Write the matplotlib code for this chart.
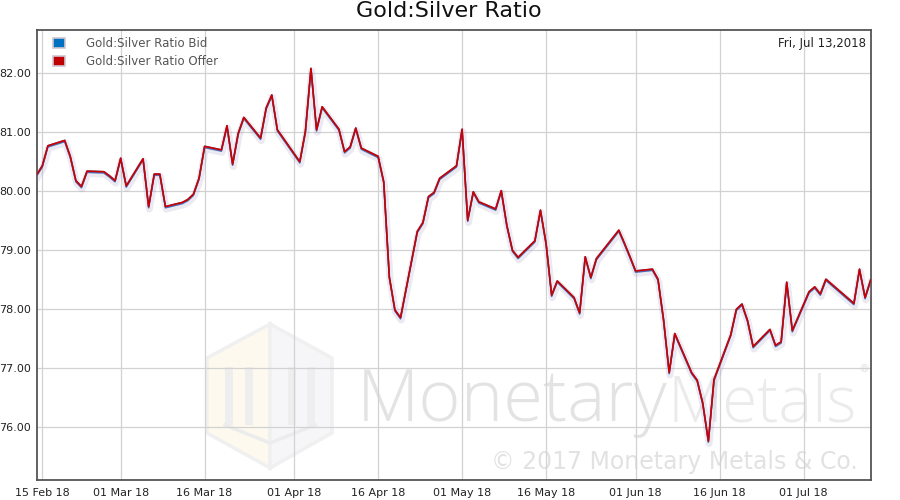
import numpy as np
import pandas as pd
import matplotlib
matplotlib.use("Agg")
import matplotlib.pyplot as plt
import matplotlib.dates as mdates
import matplotlib.patheffects as pe
from matplotlib.patches import Patch, Polygon, Rectangle
from matplotlib.transforms import Affine2D

# trading days and ratio values
dates = [
    "2018-02-14", "2018-02-15", "2018-02-16", "2018-02-19", "2018-02-20",
    "2018-02-21", "2018-02-22", "2018-02-23", "2018-02-26", "2018-02-27",
    "2018-02-28", "2018-03-01", "2018-03-02", "2018-03-05", "2018-03-06",
    "2018-03-07", "2018-03-08", "2018-03-09", "2018-03-12", "2018-03-13",
    "2018-03-14", "2018-03-15", "2018-03-16", "2018-03-19", "2018-03-20",
    "2018-03-21", "2018-03-22", "2018-03-23", "2018-03-26", "2018-03-27",
    "2018-03-28", "2018-03-29", "2018-04-02", "2018-04-03", "2018-04-04",
    "2018-04-05", "2018-04-06", "2018-04-09", "2018-04-10", "2018-04-11",
    "2018-04-12", "2018-04-13", "2018-04-16", "2018-04-17", "2018-04-18",
    "2018-04-19", "2018-04-20", "2018-04-23", "2018-04-24", "2018-04-25",
    "2018-04-26", "2018-04-27", "2018-04-30", "2018-05-01", "2018-05-02",
    "2018-05-03", "2018-05-04", "2018-05-07", "2018-05-08", "2018-05-09",
    "2018-05-10", "2018-05-11", "2018-05-14", "2018-05-15", "2018-05-16",
    "2018-05-17", "2018-05-18", "2018-05-21", "2018-05-22", "2018-05-23",
    "2018-05-24", "2018-05-25", "2018-05-29", "2018-05-30", "2018-05-31",
    "2018-06-01", "2018-06-04", "2018-06-05", "2018-06-06", "2018-06-07",
    "2018-06-08", "2018-06-11", "2018-06-12", "2018-06-13", "2018-06-14",
    "2018-06-15", "2018-06-18", "2018-06-19", "2018-06-20", "2018-06-21",
    "2018-06-22", "2018-06-25", "2018-06-26", "2018-06-27", "2018-06-28",
    "2018-06-29", "2018-07-02", "2018-07-03", "2018-07-04", "2018-07-05",
    "2018-07-10", "2018-07-11", "2018-07-12", "2018-07-13",
]

offer = [
    80.28, 80.43, 80.77, 80.86, 80.59,
    80.18, 80.08, 80.34, 80.33, 80.26,
    80.18, 80.56, 80.09, 80.55, 79.74,
    80.29, 80.29, 79.74, 79.81, 79.86,
    79.95, 80.22, 80.76, 80.70, 81.11,
    80.46, 80.98, 81.25, 80.90, 81.41,
    81.63, 81.04, 80.50, 81.01, 82.08,
    81.04, 81.43, 81.05, 80.67, 80.75,
    81.07, 80.73, 80.59, 80.16, 78.55,
    77.99, 77.86, 79.32, 79.47, 79.91,
    79.98, 80.22, 80.43, 81.05, 79.51,
    79.99, 79.82, 79.70, 80.01, 79.42,
    79.00, 78.88, 79.16, 79.68, 79.12,
    78.24, 78.48, 78.20, 77.94, 78.89,
    78.54, 78.86, 79.34, 79.12, 78.89,
    78.65, 78.68, 78.51, 77.82, 76.93,
    77.59, 76.93, 76.80, 76.41, 75.77,
    76.81, 77.57, 78.00, 78.09, 77.81,
    77.37, 77.66, 77.39, 77.45, 78.46,
    77.64, 78.30, 78.38, 78.26, 78.51,
    78.10, 78.68, 78.20, 78.50,
]

# bid sits within a pixel of the offer on this scale
bid = list(offer)

tick_dates = ["2018-02-15", "2018-03-01", "2018-03-16", "2018-04-01", "2018-04-16",
              "2018-05-01", "2018-05-16", "2018-06-01", "2018-06-16", "2018-07-01"]
y_ticks = [76, 77, 78, 79, 80, 81, 82]

x = pd.to_datetime(dates)

fig = plt.figure(figsize=(9, 5), dpi=100)
ax = fig.add_axes([36.7 / 900, 20 / 500, 834 / 900, 450 / 500])

# pixel coordinates (origin top-left) for the watermark decoration
px = Affine2D().scale(1 / 900, -1 / 500).translate(0, 1) + fig.transFigure

# watermark logo
hexagon_left = [(270, 324), (207, 358), (207, 433), (270, 468), (270, 324)]
hexagon_right = [(270, 324), (332, 358), (332, 433), (270, 468), (270, 324)]
ax.add_patch(Polygon(hexagon_left, closed=True, transform=px, facecolor="#fdf9ee",
                     edgecolor="#f0f0f0", lw=2.5, zorder=0.3))
ax.add_patch(Polygon(hexagon_right, closed=True, transform=px, facecolor="#f6f6f8",
                     edgecolor="#f0f0f0", lw=2.5, zorder=0.3))
for bx in [225, 245, 288, 307]:
    ax.add_patch(Rectangle((bx, 367), 8, 58, transform=px, facecolor="#eeeeee",
                           edgecolor="none", zorder=0.35))
ax.plot([225, 270, 315], [425, 443, 425], transform=px, color="#ececec", lw=2.5, zorder=0.35)

ax.text(357, 421, "Monetary", transform=px, fontsize=52, family="Open Sans",
        weight="light", color="#e3e3e3", ha="left", va="baseline", zorder=0.4)
ax.text(668, 421, "Metals", transform=px, fontsize=46, family="Open Sans",
        weight="light", color="#ebebeb", ha="left", va="baseline", zorder=0.4)
ax.text(859, 372, "®", transform=px, fontsize=8, color="#dedede",
        ha="left", va="baseline", zorder=0.4)
ax.text(858, 469, "© 2017 Monetary Metals & Co.", transform=px, fontsize=17,
        color="#e2e2e2", ha="right", va="baseline", zorder=0.4)

shadow = [pe.SimpleLineShadow(offset=(0.5, -1.8), shadow_color="#a49cc0",
                              alpha=0.22, linewidth=5), pe.Normal()]
ax.plot(x, bid, color="#2f63b5", lw=1.1, zorder=3,
        path_effects=[pe.Stroke(offset=(0, -0.9), linewidth=1.1, foreground="#2f63b5")]
        + shadow)
ax.plot(x, offer, color="#cc0000", lw=1.2, zorder=4)

ax.set_xlim(x[0], x[-1])
ax.set_ylim(75.11, 82.73)
ax.set_yticks(y_ticks)
ax.yaxis.set_major_formatter(plt.FuncFormatter(lambda v, p: "%.2f" % v))
ax.set_xticks(pd.to_datetime(tick_dates))
ax.xaxis.set_major_formatter(mdates.DateFormatter("%d %b %y"))

ax.grid(True, color="#d2d2d2", lw=0.9)
ax.set_axisbelow(True)
ax.tick_params(length=0, labelsize=8, colors="#222222")
ax.tick_params(axis="y", pad=4)
ax.tick_params(axis="x", pad=6)
for s in ax.spines.values():
    s.set_color("#555555")
    s.set_linewidth(1.3)

handles = [
    Patch(facecolor="#0070c0", edgecolor="#cfc6d3", lw=1.2, label="Gold:Silver Ratio Bid"),
    Patch(facecolor="#c00000", edgecolor="#cfc6d3", lw=1.2, label="Gold:Silver Ratio Offer"),
]
leg = ax.legend(handles=handles, loc="upper left", bbox_to_anchor=(0.0195, 0.984),
                frameon=False, fontsize=8.5, borderpad=0, borderaxespad=0,
                handlelength=1.0, handleheight=1.0, handletextpad=1.8,
                labelspacing=0.4)
for t in leg.get_texts():
    t.set_color("#555555")

ax.text(0.994, 0.97, "Fri, Jul 13,2018", transform=ax.transAxes, ha="right",
        va="center", fontsize=8.5, color="#222222")

fig.text(449 / 900, 1 - 11 / 500, "Gold:Silver Ratio", ha="center", va="center",
         fontsize=16, color="#111111")

fig.savefig("out.png", dpi=100)
